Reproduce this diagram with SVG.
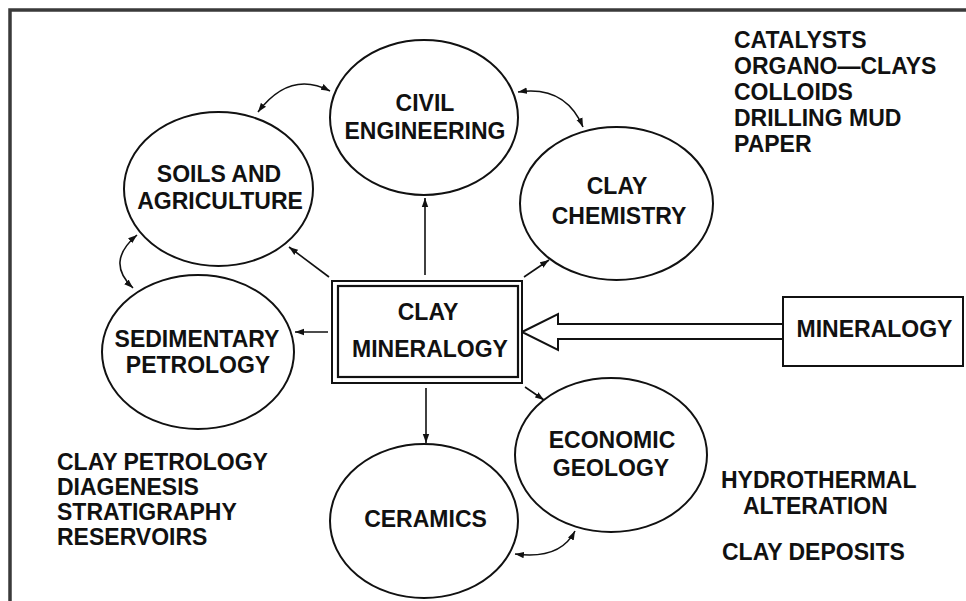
<svg xmlns="http://www.w3.org/2000/svg" width="966" height="601" viewBox="0 0 966 601">
<style>
.node{fill:#fff;stroke:#111;stroke-width:2}
.lbl{font-family:"Liberation Sans",Arial,sans-serif;font-weight:bold;font-size:23px;fill:#111;text-anchor:middle}
.lst{font-family:"Liberation Sans",Arial,sans-serif;font-weight:bold;font-size:23px;fill:#111}
.con{fill:none;stroke:#111;stroke-width:1.6}
</style>
<defs>
<marker id="ah" markerUnits="userSpaceOnUse" markerWidth="10" markerHeight="8" refX="9" refY="4" orient="auto-start-reverse">
<path d="M0,0.8 L9,4 L0,7.2 Z" fill="#111"/>
</marker>
</defs>
<rect width="966" height="601" fill="#fff"/>
<path d="M10,601 V10 H966" fill="none" stroke="#3a3a3a" stroke-width="3.5"/>

<g id="connectors">
<line class="con" x1="425" y1="275" x2="425" y2="198" marker-end="url(#ah)"/>
<line class="con" x1="329" y1="277" x2="289" y2="247" marker-end="url(#ah)"/>
<line class="con" x1="524" y1="277" x2="549" y2="260" marker-end="url(#ah)"/>
<line class="con" x1="328" y1="332" x2="295" y2="332" marker-end="url(#ah)"/>
<line class="con" x1="426" y1="388" x2="426" y2="443" marker-end="url(#ah)"/>
<line class="con" x1="525" y1="387" x2="544" y2="400" marker-end="url(#ah)"/>
<path class="con" d="M258,112 Q290,70 330,91" marker-start="url(#ah)" marker-end="url(#ah)"/>
<path class="con" d="M518,92 Q565,85 583,127" marker-start="url(#ah)" marker-end="url(#ah)"/>
<path class="con" d="M137,235 Q105,262 133,288" marker-start="url(#ah)" marker-end="url(#ah)"/>
<path class="con" d="M515,554 Q560,560 575,531" marker-start="url(#ah)" marker-end="url(#ah)"/>
<polygon points="522,332 558,314 558,324 783,324 783,339 558,339 558,350" fill="#fff" stroke="#111" stroke-width="2" stroke-linejoin="miter"/>
</g>

<g id="civil">
<ellipse class="node" cx="424" cy="117.5" rx="94" ry="77.5"/>
<text class="lbl" x="425" y="111">CIVIL</text>
<text class="lbl" x="425" y="139">ENGINEERING</text>
</g>
<g id="soils">
<ellipse class="node" cx="218.5" cy="189" rx="94.5" ry="77"/>
<text class="lbl" x="219" y="182">SOILS AND</text>
<text class="lbl" x="220" y="209">AGRICULTURE</text>
</g>
<g id="chemistry">
<ellipse class="node" cx="616.5" cy="203.5" rx="96.5" ry="76.5"/>
<text class="lbl" x="617" y="194">CLAY</text>
<text class="lbl" x="619" y="224">CHEMISTRY</text>
</g>
<g id="sedimentary">
<ellipse class="node" cx="198" cy="352" rx="96" ry="77"/>
<text class="lbl" x="197" y="347">SEDIMENTARY</text>
<text class="lbl" x="198" y="373">PETROLOGY</text>
</g>
<g id="ceramics">
<ellipse class="node" cx="424" cy="521" rx="94" ry="77"/>
<text class="lbl" x="425.5" y="527">CERAMICS</text>
</g>
<g id="economic">
<ellipse class="node" cx="611" cy="455" rx="96" ry="77"/>
<text class="lbl" x="612" y="448">ECONOMIC</text>
<text class="lbl" x="611" y="476">GEOLOGY</text>
</g>
<g id="claymineralogy">
<rect x="332" y="281" width="190" height="102" fill="#fff" stroke="#111" stroke-width="2"/>
<rect x="338" y="286" width="180" height="91" fill="none" stroke="#111" stroke-width="2.2"/>
<text class="lbl" x="428" y="320">CLAY</text>
<text class="lbl" x="430" y="357">MINERALOGY</text>
</g>
<g id="mineralogy">
<rect x="783" y="297" width="180" height="69" fill="#fff" stroke="#111" stroke-width="2"/>
<text class="lbl" x="874.5" y="337">MINERALOGY</text>
</g>

<g id="list-chemistry">
<text class="lst" x="734" y="48">CATALYSTS</text>
<text class="lst" x="734" y="74">ORGANO—CLAYS</text>
<text class="lst" x="734" y="100">COLLOIDS</text>
<text class="lst" x="734" y="126">DRILLING MUD</text>
<text class="lst" x="734" y="152">PAPER</text>
</g>
<g id="list-petrology">
<text class="lst" x="57" y="470">CLAY PETROLOGY</text>
<text class="lst" x="57" y="495">DIAGENESIS</text>
<text class="lst" x="57" y="520">STRATIGRAPHY</text>
<text class="lst" x="57" y="545">RESERVOIRS</text>
</g>
<g id="list-economic">
<text class="lst" x="721" y="488">HYDROTHERMAL</text>
<text class="lst" x="743" y="514">ALTERATION</text>
<text class="lst" x="722" y="560">CLAY DEPOSITS</text>
</g>
</svg>
